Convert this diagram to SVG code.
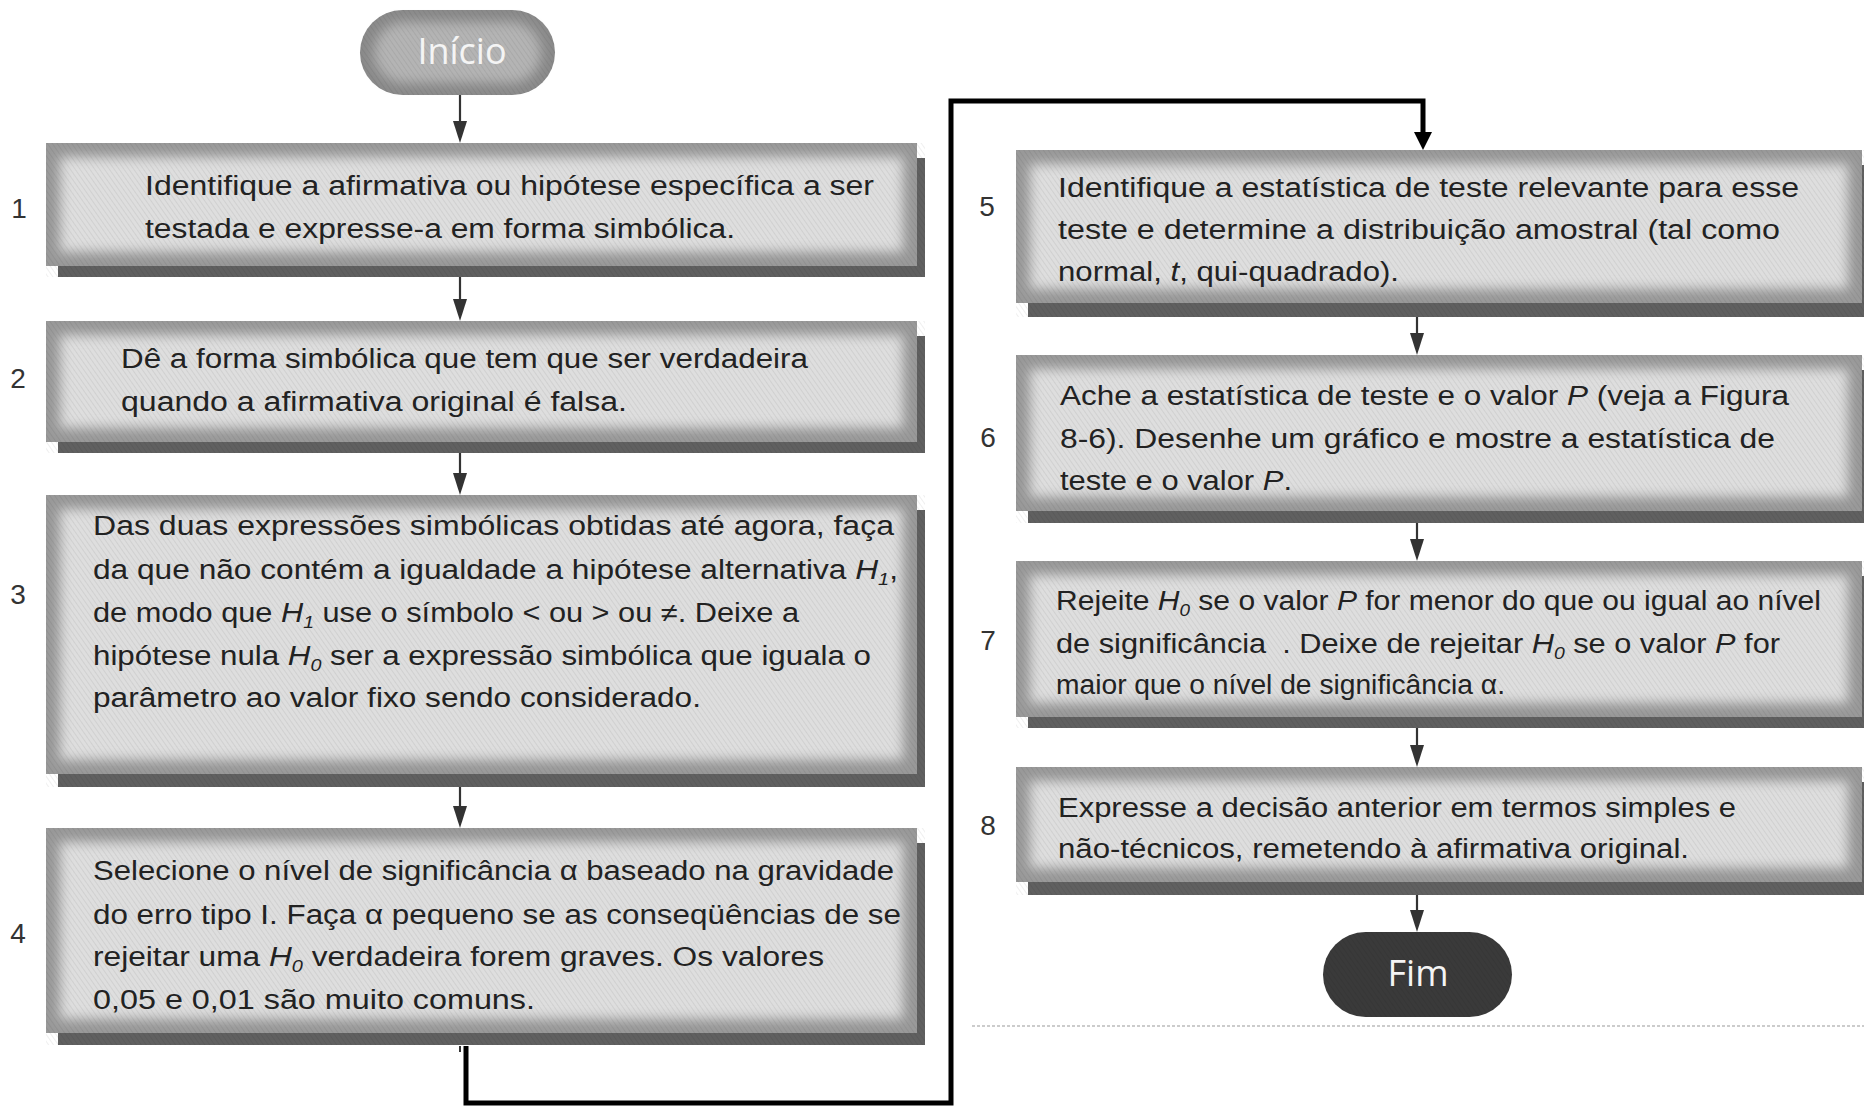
<svg xmlns="http://www.w3.org/2000/svg" width="1864" height="1107" viewBox="0 0 1864 1107">
<style>
.t{font-family:"Liberation Sans",Arial,sans-serif;font-size:27px;fill:#222}
.i{font-style:italic}
.sub{font-size:17px;font-style:italic}
.num{font-family:"Liberation Sans",Arial,sans-serif;font-size:28px;fill:#333;text-anchor:middle}
.term{font-family:"Open Sans","Liberation Sans",sans-serif;font-size:36px;fill:#f4f4f4;text-anchor:middle}
.edge{fill:#999999}
.inner{fill:#dedede;filter:url(#soft)}
.shadow{fill:#606060}
.hatch{fill:url(#hatch)}
.ln{stroke:#333;stroke-width:2.2;fill:none}
.hd{fill:#333}
</style>
<defs>
<filter id="soft" x="-10%" y="-20%" width="120%" height="140%"><feGaussianBlur stdDeviation="6"/></filter>
<pattern id="hatch" width="4" height="4" patternUnits="userSpaceOnUse" patternTransform="rotate(-35)">
<line x1="0" y1="0" x2="0" y2="4" stroke="#000" stroke-width="1.2" stroke-opacity="0.1"/>
</pattern>
</defs>
<rect width="1864" height="1107" fill="#fff"/>
<line x1="972" y1="1026" x2="1864" y2="1026" stroke="#999" stroke-width="1" stroke-dasharray="3 2"/>

<g id="connectors">
<path class="ln" d="M460,95 V121"/>
<path class="hd" d="M453,121 L467,121 L460,143 z"/>
<path class="ln" d="M460,277 V299"/>
<path class="hd" d="M453,299 L467,299 L460,321 z"/>
<path class="ln" d="M460,453 V473"/>
<path class="hd" d="M453,473 L467,473 L460,495 z"/>
<path class="ln" d="M460,787 V806"/>
<path class="hd" d="M453,806 L467,806 L460,828 z"/>
<path class="ln" d="M1417,317 V333"/>
<path class="hd" d="M1410,333 L1424,333 L1417,355 z"/>
<path class="ln" d="M1417,523 V539"/>
<path class="hd" d="M1410,539 L1424,539 L1417,561 z"/>
<path class="ln" d="M1417,728 V745"/>
<path class="hd" d="M1410,745 L1424,745 L1417,767 z"/>
<path class="ln" d="M1417,895 V910"/>
<path class="hd" d="M1410,910 L1424,910 L1417,932 z"/>
<path d="M460,1046 V1052" stroke="#333" stroke-width="2"/>
<path d="M466,1046 V1103 H951 V101 H1423 V132" stroke="#000" stroke-width="5" fill="none" stroke-linejoin="miter"/>
<path d="M1414,132 L1432,132 L1423,150 z" fill="#000"/>
</g>

<g id="start">
<rect x="360" y="10" width="195" height="85" rx="42.5" fill="#8a8a8a"/>
<rect x="374" y="22" width="167" height="61" rx="30" fill="#b4b4b4" filter="url(#soft)"/>
<rect x="360" y="10" width="195" height="85" rx="42.5" class="hatch"/>
<text x="462" y="64" class="term">Início</text>
</g>

<g id="step1">
<rect x="58" y="158" width="867" height="119" class="shadow"/>
<rect x="46" y="143" width="871" height="123" class="edge"/>
<rect x="60" y="157" width="843" height="95" class="inner"/>
<rect x="46" y="143" width="879" height="134" class="hatch"/>
<text x="19" y="218" class="num">1</text>
<text x="145" y="195" class="t" textLength="729" lengthAdjust="spacingAndGlyphs">Identifique a afirmativa ou hipótese específica a ser</text>
<text x="145" y="238" class="t" textLength="590" lengthAdjust="spacingAndGlyphs">testada e expresse-a em forma simbólica.</text>
</g>

<g id="step2">
<rect x="58" y="336" width="867" height="117" class="shadow"/>
<rect x="46" y="321" width="871" height="121" class="edge"/>
<rect x="60" y="335" width="843" height="93" class="inner"/>
<rect x="46" y="321" width="879" height="132" class="hatch"/>
<text x="18" y="388" class="num">2</text>
<text x="121" y="368" class="t" textLength="687" lengthAdjust="spacingAndGlyphs">Dê a forma simbólica que tem que ser verdadeira</text>
<text x="121" y="411" class="t" textLength="506" lengthAdjust="spacingAndGlyphs">quando a afirmativa original é falsa.</text>
</g>

<g id="step3">
<rect x="58" y="510" width="867" height="277" class="shadow"/>
<rect x="46" y="495" width="871" height="279" class="edge"/>
<rect x="60" y="509" width="843" height="251" class="inner"/>
<rect x="46" y="495" width="879" height="292" class="hatch"/>
<text x="18" y="604" class="num">3</text>
<text x="93" y="535" class="t" textLength="801" lengthAdjust="spacingAndGlyphs">Das duas expressões simbólicas obtidas até agora, faça</text>
<text x="93" y="579" class="t" textLength="805" lengthAdjust="spacingAndGlyphs">da que não contém a igualdade a hipótese alternativa <tspan class="i">H</tspan><tspan class="sub" dy="6">1</tspan><tspan dy="-6">,</tspan></text>
<text x="93" y="622" class="t" textLength="706" lengthAdjust="spacingAndGlyphs">de modo que <tspan class="i">H</tspan><tspan class="sub" dy="6">1</tspan><tspan dy="-6"> use o símbolo &lt; ou &gt; ou ≠. Deixe a</tspan></text>
<text x="93" y="665" class="t" textLength="778" lengthAdjust="spacingAndGlyphs">hipótese nula <tspan class="i">H</tspan><tspan class="sub" dy="6">0</tspan><tspan dy="-6"> ser a expressão simbólica que iguala o</tspan></text>
<text x="93" y="707" class="t" textLength="608" lengthAdjust="spacingAndGlyphs">parâmetro ao valor fixo sendo considerado.</text>
</g>

<g id="step4">
<rect x="58" y="843" width="867" height="202" class="shadow"/>
<rect x="46" y="828" width="871" height="205" class="edge"/>
<rect x="60" y="842" width="843" height="177" class="inner"/>
<rect x="46" y="828" width="879" height="217" class="hatch"/>
<text x="18" y="943" class="num">4</text>
<text x="93" y="880" class="t" textLength="801" lengthAdjust="spacingAndGlyphs">Selecione o nível de significância α baseado na gravidade</text>
<text x="93" y="924" class="t" textLength="808" lengthAdjust="spacingAndGlyphs">do erro tipo I. Faça α pequeno se as conseqüências de se</text>
<text x="93" y="966" class="t" textLength="731" lengthAdjust="spacingAndGlyphs">rejeitar uma <tspan class="i">H</tspan><tspan class="sub" dy="6">0</tspan><tspan dy="-6"> verdadeira forem graves. Os valores</tspan></text>
<text x="93" y="1009" class="t" textLength="442" lengthAdjust="spacingAndGlyphs">0,05 e 0,01 são muito comuns.</text>
</g>

<g id="step5">
<rect x="1028" y="165" width="842" height="152" class="shadow"/>
<rect x="1016" y="150" width="846" height="153" class="edge"/>
<rect x="1030" y="164" width="818" height="125" class="inner"/>
<rect x="1016" y="150" width="854" height="167" class="hatch"/>
<text x="987" y="216" class="num">5</text>
<text x="1058" y="197" class="t" textLength="741" lengthAdjust="spacingAndGlyphs">Identifique a estatística de teste relevante para esse</text>
<text x="1058" y="239" class="t" textLength="722" lengthAdjust="spacingAndGlyphs">teste e determine a distribuição amostral (tal como</text>
<text x="1058" y="281" class="t" textLength="341" lengthAdjust="spacingAndGlyphs">normal, <tspan class="i">t</tspan>, qui-quadrado).</text>
</g>

<g id="step6">
<rect x="1028" y="370" width="842" height="153" class="shadow"/>
<rect x="1016" y="355" width="846" height="156" class="edge"/>
<rect x="1030" y="369" width="818" height="128" class="inner"/>
<rect x="1016" y="355" width="854" height="168" class="hatch"/>
<text x="988" y="447" class="num">6</text>
<text x="1060" y="405" class="t" textLength="729" lengthAdjust="spacingAndGlyphs">Ache a estatística de teste e o valor <tspan class="i">P</tspan> (veja a Figura</text>
<text x="1060" y="448" class="t" textLength="715" lengthAdjust="spacingAndGlyphs">8-6). Desenhe um gráfico e mostre a estatística de</text>
<text x="1060" y="490" class="t" textLength="232" lengthAdjust="spacingAndGlyphs">teste e o valor <tspan class="i">P</tspan>.</text>
</g>

<g id="step7">
<rect x="1028" y="576" width="842" height="152" class="shadow"/>
<rect x="1016" y="561" width="846" height="156" class="edge"/>
<rect x="1030" y="575" width="818" height="128" class="inner"/>
<rect x="1016" y="561" width="854" height="167" class="hatch"/>
<text x="988" y="650" class="num">7</text>
<text x="1056" y="610" class="t" textLength="765" lengthAdjust="spacingAndGlyphs">Rejeite <tspan class="i">H</tspan><tspan class="sub" dy="6">0</tspan><tspan dy="-6"> se o valor </tspan><tspan class="i">P</tspan> for menor do que ou igual ao nível</text>
<text x="1056" y="653" class="t" textLength="724" lengthAdjust="spacingAndGlyphs">de significância<tspan dx="14">. Deixe de rejeitar </tspan><tspan class="i">H</tspan><tspan class="sub" dy="6">0</tspan><tspan dy="-6"> se o valor </tspan><tspan class="i">P</tspan> for</text>
<text x="1056" y="694" class="t" textLength="449" lengthAdjust="spacingAndGlyphs">maior que o nível de significância α.</text>
</g>

<g id="step8">
<rect x="1028" y="782" width="842" height="113" class="shadow"/>
<rect x="1016" y="767" width="846" height="115" class="edge"/>
<rect x="1030" y="781" width="818" height="87" class="inner"/>
<rect x="1016" y="767" width="854" height="128" class="hatch"/>
<text x="988" y="835" class="num">8</text>
<text x="1058" y="817" class="t" textLength="678" lengthAdjust="spacingAndGlyphs">Expresse a decisão anterior em termos simples e</text>
<text x="1058" y="858" class="t" textLength="631" lengthAdjust="spacingAndGlyphs">não-técnicos, remetendo à afirmativa original.</text>
</g>

<g id="end">
<rect x="1323" y="932" width="189" height="85" rx="42.5" fill="#3a3a3a"/>
<rect x="1323" y="932" width="189" height="85" rx="42.5" class="hatch"/>
<text x="1418" y="986" class="term">Fim</text>
</g>
</svg>
